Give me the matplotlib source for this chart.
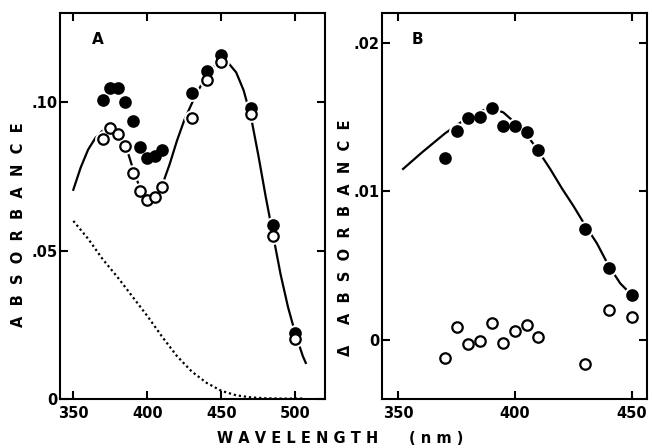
import matplotlib.pyplot as plt

#--Data--#
# panel A: absorbance spectra
wl_a = [370, 375, 380, 385, 390, 395, 400, 405, 410, 430, 440, 450, 470, 485, 500]
filled_a = [0.1007, 0.1046, 0.1046, 0.1000, 0.0936, 0.0850, 0.0812, 0.0817, 0.0840,
            0.1030, 0.1105, 0.1160, 0.0980, 0.0587, 0.0224]
open_a = [0.0875, 0.0914, 0.0893, 0.0852, 0.0763, 0.0700, 0.0671, 0.0680, 0.0714,
          0.0945, 0.1076, 0.1134, 0.0960, 0.0550, 0.0203]

curve_a_x = [350, 355, 360, 365, 370, 375, 380, 385, 390, 395, 400, 405, 410, 415, 420,
             425, 430, 435, 440, 445, 450, 455, 460, 465, 470, 475, 480, 485, 490, 495,
             500, 505, 507]
curve_a_y = [0.0705, 0.0780, 0.0840, 0.0880, 0.0905, 0.0918, 0.0905, 0.0860, 0.0780,
             0.0710, 0.0675, 0.0680, 0.0720, 0.0790, 0.0870, 0.0940, 0.0995, 0.1045,
             0.1090, 0.1120, 0.1135, 0.1130, 0.1100, 0.1040, 0.0950, 0.0820, 0.0680,
             0.0550, 0.0420, 0.0310, 0.0220, 0.0145, 0.0122]

dot_x = [350, 360, 370, 380, 390, 400, 410, 420, 430, 440, 450, 460, 470, 480, 490, 505]
dot_y = [0.0600, 0.0540, 0.0470, 0.0410, 0.0345, 0.0280, 0.0210, 0.0145, 0.0093,
         0.0055, 0.0028, 0.0013, 0.0006, 0.0003, 0.0002, 0.0002]

# panel B: difference spectra
wl_b = [370, 375, 380, 385, 390, 395, 400, 405, 410, 430, 440, 450]
filled_b = [0.01225, 0.01403, 0.0149, 0.0150, 0.0156, 0.0144, 0.0144, 0.0140, 0.0128,
            0.00748, 0.0048, 0.0030]
open_b = [-0.0012, 0.00083, -0.0003, -0.0001, 0.00113, -0.0002, 0.0006, 0.0010, 0.0002,
          -0.0016, 0.0020, 0.0015]

curve_b_x = [352, 360, 370, 380, 385, 390, 395, 400, 405, 410, 415, 420, 425, 430, 435,
             440, 445, 450]
curve_b_y = [0.0115, 0.0126, 0.0139, 0.0150, 0.0154, 0.0156, 0.0153, 0.0146, 0.0138,
             0.0127, 0.0115, 0.0102, 0.0090, 0.0077, 0.0065, 0.0050, 0.0038, 0.0030]

#--Figure--#
plt.rcParams['font.family'] = ['DejaVu Sans']
plt.rcParams['font.weight'] = 'bold'

fig = plt.figure(figsize=(6.52, 4.48), dpi=100)
ax_a = fig.add_axes([0.092, 0.109, 0.4065, 0.862])
ax_b = fig.add_axes([0.586, 0.109, 0.4064, 0.862])


def points(ax, x, y, face):
    # white halo under each marker so the line breaks around it
    ax.plot(x, y, 'o', ms=11, color='white', zorder=3)
    ax.plot(x, y, 'o', ms=7.5, mfc=face, mec='black', mew=1.6, zorder=4)


def style(ax):
    ax.tick_params(direction='in', length=6, width=1.5, top=True, right=True,
                   labelsize=10.5)
    ax.tick_params(axis='x', pad=5)
    ax.tick_params(axis='y', pad=2)
    for s in ax.spines.values():
        s.set_linewidth(1.5)
    for lbl in ax.get_xticklabels() + ax.get_yticklabels():
        lbl.set_fontweight('bold')


# A
ax_a.plot(curve_a_x, curve_a_y, color='black', lw=1.6, zorder=2)
ax_a.plot(dot_x, dot_y, color='black', lw=1.6, linestyle=(0, (1, 1.3)), zorder=2)
points(ax_a, wl_a, filled_a, 'black')
points(ax_a, wl_a, open_a, 'white')
ax_a.set_xlim(341, 520)
ax_a.set_ylim(0, 0.130)
ax_a.set_xticks([350, 400, 450, 500])
ax_a.set_yticks([0, 0.05, 0.10])
ax_a.set_yticklabels(['0', '.05', '.10'])
ax_a.text(0.12, 0.92, 'A', transform=ax_a.transAxes, fontsize=11, fontweight='bold')
style(ax_a)

# B
ax_b.plot(curve_b_x, curve_b_y, color='black', lw=1.6, zorder=2)
points(ax_b, wl_b, filled_b, 'black')
points(ax_b, wl_b, open_b, 'white')
ax_b.set_xlim(343, 456.5)
ax_b.set_ylim(-0.004, 0.022)
ax_b.set_xticks([350, 400, 450])
ax_b.set_yticks([0, 0.01, 0.02])
ax_b.set_yticklabels(['0', '.01', '.02'])
ax_b.text(0.11, 0.92, 'B', transform=ax_b.transAxes, fontsize=11, fontweight='bold')
style(ax_b)

fig.text(19 / 652, 1 - 225 / 448, 'A  B  S  O  R  B  A  N  C  E', rotation=90,
         ha='center', va='center', fontsize=10.5, fontweight='bold')
fig.text(345 / 652, 1 - 238 / 448, 'Δ    A  B  S  O  R  B  A  N  C  E', rotation=90,
         ha='center', va='center', fontsize=10.5, fontweight='bold')
fig.text(340 / 652, 1 - 438 / 448, 'W A V E L E N G T H      ( n m )',
         ha='center', va='center', fontsize=10.5, fontweight='bold')

fig.savefig('out.png', dpi=100)
